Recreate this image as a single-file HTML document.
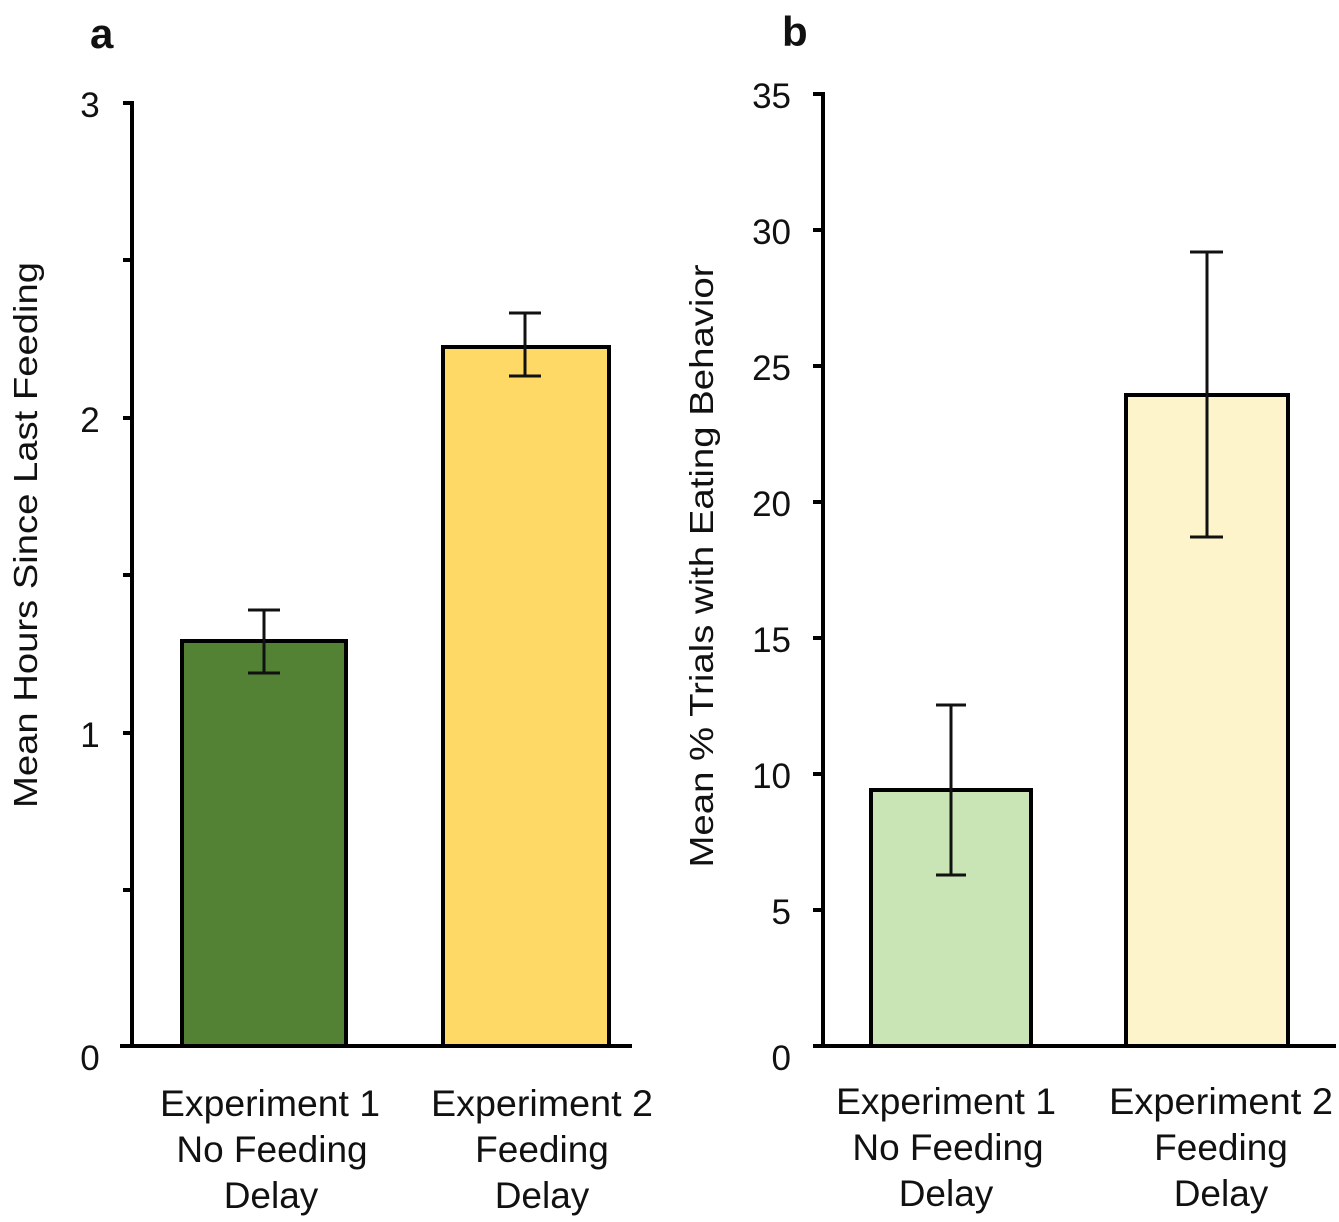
<!DOCTYPE html>
<html><head><meta charset="utf-8"><style>
html,body{margin:0;padding:0;background:#fff}
svg{display:block}
text{font-family:"Liberation Sans",Arial,sans-serif;fill:#111}
</style></head><body>
<svg width="1339" height="1222" viewBox="0 0 1339 1222" xmlns="http://www.w3.org/2000/svg">
<text x="90" y="48" font-size="42" font-weight="bold">a</text>
<text x="782" y="46" font-size="42" font-weight="bold">b</text>

<!-- Panel a -->
<g stroke="#000" stroke-width="4" fill="none">
<line x1="132" y1="101" x2="132" y2="1048"/>
<line x1="120" y1="1046" x2="632" y2="1046"/>
<line x1="123" y1="103" x2="132" y2="103"/>
<line x1="123" y1="260" x2="132" y2="260"/>
<line x1="123" y1="418" x2="132" y2="418"/>
<line x1="123" y1="575" x2="132" y2="575"/>
<line x1="123" y1="733" x2="132" y2="733"/>
<line x1="123" y1="890" x2="132" y2="890"/>
</g>
<g font-size="35" text-anchor="middle">
<text x="90" y="117">3</text>
<text x="90" y="432">2</text>
<text x="90" y="747">1</text>
<text x="90" y="1070">0</text>
</g>
<text transform="translate(37,535) rotate(-90)" font-size="33" text-anchor="middle" textLength="546" lengthAdjust="spacingAndGlyphs">Mean Hours Since Last Feeding</text>
<rect x="182" y="641" width="164" height="405" fill="#548235" stroke="#000" stroke-width="4"/>
<rect x="443" y="347" width="166" height="699" fill="#ffd966" stroke="#000" stroke-width="4"/>
<g stroke="#111" stroke-width="3">
<line x1="264" y1="610" x2="264" y2="673"/><line x1="248" y1="610" x2="280" y2="610"/><line x1="248" y1="673" x2="280" y2="673"/>
<line x1="525" y1="313" x2="525" y2="376"/><line x1="509" y1="313" x2="541" y2="313"/><line x1="509" y1="376" x2="541" y2="376"/>
</g>
<g font-size="37" text-anchor="middle">
<text x="270" y="1116" textLength="220" lengthAdjust="spacingAndGlyphs">Experiment 1</text>
<text x="272" y="1162">No Feeding</text>
<text x="271" y="1208">Delay</text>
<text x="542" y="1116" textLength="222" lengthAdjust="spacingAndGlyphs">Experiment 2</text>
<text x="542" y="1162">Feeding</text>
<text x="542" y="1208">Delay</text>
</g>

<!-- Panel b -->
<g stroke="#000" stroke-width="4" fill="none">
<line x1="823" y1="92" x2="823" y2="1048"/>
<line x1="813" y1="1046" x2="1336" y2="1046"/>
<line x1="813" y1="94" x2="823" y2="94"/>
<line x1="813" y1="230" x2="823" y2="230"/>
<line x1="813" y1="366" x2="823" y2="366"/>
<line x1="813" y1="502" x2="823" y2="502"/>
<line x1="813" y1="638" x2="823" y2="638"/>
<line x1="813" y1="774" x2="823" y2="774"/>
<line x1="813" y1="910" x2="823" y2="910"/>
</g>
<g font-size="35" text-anchor="end">
<text x="791" y="108">35</text>
<text x="791" y="244">30</text>
<text x="791" y="380">25</text>
<text x="791" y="516">20</text>
<text x="791" y="652">15</text>
<text x="791" y="788">10</text>
<text x="791" y="924">5</text>
<text x="791" y="1070">0</text>
</g>
<text transform="translate(713,566) rotate(-90)" font-size="33" text-anchor="middle" textLength="603" lengthAdjust="spacingAndGlyphs">Mean % Trials with Eating Behavior</text>
<rect x="871" y="790" width="160" height="256" fill="#c9e4b5" stroke="#000" stroke-width="4"/>
<rect x="1126" y="395" width="162" height="651" fill="#fdf4cc" stroke="#000" stroke-width="4"/>
<g stroke="#111" stroke-width="3">
<line x1="951" y1="705" x2="951" y2="875"/><line x1="936" y1="705" x2="966" y2="705"/><line x1="936" y1="875" x2="966" y2="875"/>
<line x1="1207" y1="252" x2="1207" y2="537"/><line x1="1190" y1="252" x2="1223" y2="252"/><line x1="1190" y1="537" x2="1223" y2="537"/>
</g>
<g font-size="37" text-anchor="middle">
<text x="946" y="1114" textLength="220" lengthAdjust="spacingAndGlyphs">Experiment 1</text>
<text x="948" y="1160">No Feeding</text>
<text x="946" y="1206">Delay</text>
<text x="1221" y="1114" textLength="224" lengthAdjust="spacingAndGlyphs">Experiment 2</text>
<text x="1221" y="1160">Feeding</text>
<text x="1221" y="1206">Delay</text>
</g>
</svg>
</body></html>
